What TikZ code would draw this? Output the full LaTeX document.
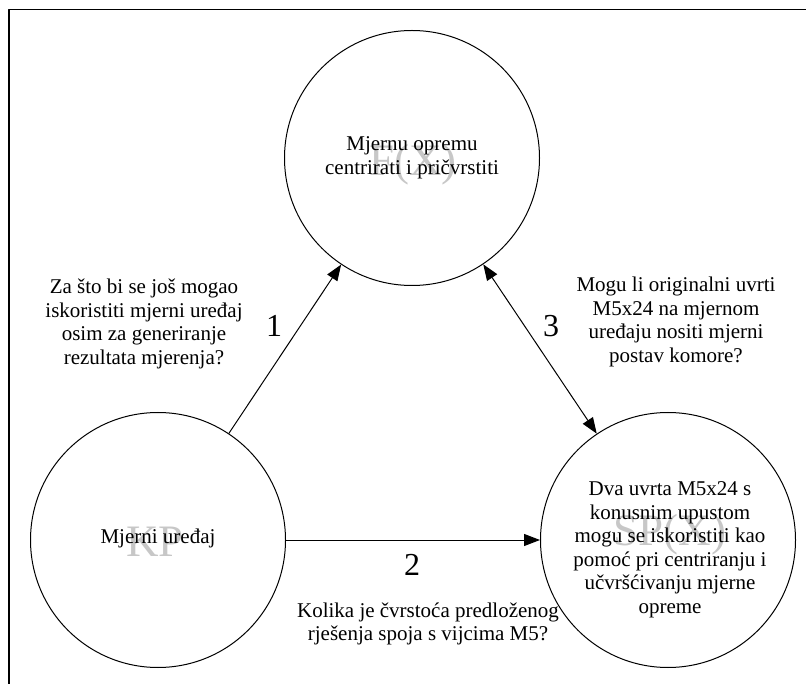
\documentclass[tikz,border=0pt]{standalone}
\usepackage{fontspec}
\setmainfont{Liberation Serif}
\usetikzlibrary{arrows.meta}
\tikzset{krug/.style={draw,circle,line width=1pt,minimum size=255pt,inner sep=0pt}}
\tikzset{tekst/.style={align=center,font=\fontsize{21}{23.5}\selectfont}}
\tikzset{znak/.style={text=black!22,font=\fontsize{45}{45}\selectfont}}
\tikzset{broj/.style={font=\fontsize{32}{32}\selectfont}}
\tikzset{vrh/.style={Triangle[length=16pt,width=12pt]}}
\tikzset{strelica/.style={line width=1pt,-{Triangle[length=16pt,width=12pt]}}}
\tikzset{dvostruka/.style={line width=1pt,{Triangle[length=16pt,width=12pt]}-{Triangle[length=16pt,width=12pt]}}}

\begin{document}
\begin{tikzpicture}[x=1pt,y=-1pt,line join=round]
  \useasboundingbox (0,0) rectangle (806,684);
  \draw[line width=1.3pt] (9,684) -- (9,9.5) -- (806,9.5);
  % sive oznake
  \node[znak] (fx) at (413,165) {F(X)};
  \node[znak] (kp) at (155,542) {KP};
  \node[znak] (spx) at (670,535) {SP(X)};
  % krugovi
  \node[krug] (F) at (412,158) {};
  \node[krug] (KP) at (158,540) {};
  \node[krug] (SP) at (668,540) {};
  \node[tekst] (Ft) at (412,158) {Mjernu opremu\\centrirati i pričvrstiti};
  \node[tekst] (KPt) at (158,538) {Mjerni uređaj};
  \node[tekst] (SPt) at (670,550) {Dva uvrta M5x24 s\\konusnim upustom\\mogu se iskoristiti kao\\pomoć pri centriranju i\\učvršćivanju mjerne\\opreme};
  % strelice
  \draw[strelica] (KP) -- (F);
  \draw[strelica] (KP) -- (SP);
  \draw[dvostruka] (F) -- (SP);
  \node[broj] (b1) at (274,326) {1};
  \node[broj] (b2) at (412,565) {2};
  \node[broj] (b3) at (551,326) {3};
  % pitanja
  \node[tekst] (p1) at (144,324) {Za što bi se još mogao\\iskoristiti mjerni uređaj\\osim za generiranje\\rezultata mjerenja?};
  \node[tekst] (p3) at (676,322) {Mogu li originalni uvrti\\M5x24 na mjernom\\uređaju nositi mjerni\\postav komore?};
  \node[tekst] (p2) at (428,624) {Kolika je čvrstoća predloženog\\rješenja spoja s vijcima M5?};
\end{tikzpicture}
\end{document}
